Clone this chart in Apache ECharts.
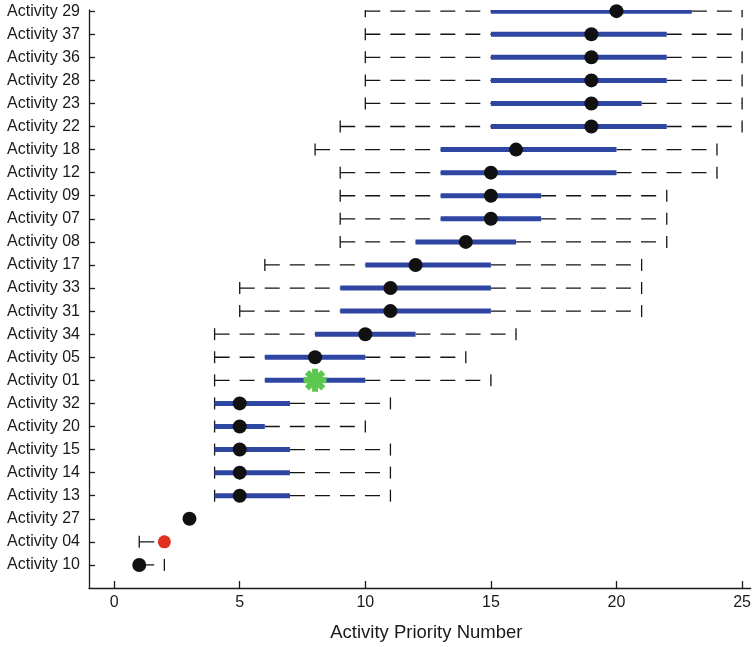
<!DOCTYPE html>
<html>
<head>
<meta charset="utf-8">
<script src="https://cdn.jsdelivr.net/npm/echarts@6/dist/echarts.min.js"></script>
<style>
html,body{margin:0;padding:0;background:#fff;}
#chart{width:754px;height:647px;}
</style>
</head>
<body>
<div id="chart"></div>
<script>
// Rows listed top to bottom
const categories = ['Activity 29','Activity 37','Activity 36','Activity 28','Activity 23','Activity 22','Activity 18','Activity 12','Activity 09','Activity 07','Activity 08','Activity 17','Activity 33','Activity 31','Activity 34','Activity 05','Activity 01','Activity 32','Activity 20','Activity 15','Activity 14','Activity 13','Activity 27','Activity 04','Activity 10'];
const mins    = [10,10,10,10,10, 9, 8, 9, 9, 9, 9, 6, 5, 5, 4, 4, 4, 4, 4, 4, 4, 4, 3, 1, 1];
const q1s     = [15,15,15,15,15,15,13,13,13,13,12,10, 9, 9, 8, 6, 6, 4, 4, 4, 4, 4, 3, 2, 1];
const medians = [20,19,19,19,19,19,16,15,15,15,14,12,11,11,10, 8, 8, 5, 5, 5, 5, 5, 3, 2, 1];
const q3s     = [23,22,22,22,21,22,20,20,17,17,16,15,15,15,12,10,10, 7, 6, 7, 7, 7, 3, 2, 1];
const maxs    = [25,25,25,25,25,25,24,24,22,22,22,21,21,21,16,14,15,11,10,11,11,11, 3, 2, 2];
const greenNames = ['Activity 01'];
const redNames = ['Activity 04'];
const xTicks = [0,5,10,15,20,25];

const n = categories.length;
const rowY = i => n - i;
const boxData = categories.map((c, i) => [rowY(i), mins[i], q1s[i], q3s[i], maxs[i]]);
const blackPts = [], greenPts = [], redPts = [];
categories.forEach((c, i) => {
  const p = [medians[i], rowY(i)];
  if (greenNames.includes(c)) greenPts.push(p);
  else if (redNames.includes(c)) redPts.push(p);
  else blackPts.push(p);
});
const yTickVals = categories.map((c, i) => rowY(i));

const FONT = '"Liberation Sans", Arial, Helvetica, sans-serif';
const BLUE = '#2e45a2';
const DASH = '#151515';

const asterisk = 'path://M-10,-2.6 L10,-2.6 L10,2.6 L-10,2.6 Z M-2.6,-10 L2.6,-10 L2.6,10 L-2.6,10 Z ' +
  'M-5.23,-8.91 L8.91,5.23 L5.23,8.91 L-8.91,-5.23 Z ' +
  'M-8.91,5.23 L5.23,-8.91 L8.91,-5.23 L-5.23,8.91 Z ' +
  'M-5,-5 L5,-5 L5,5 L-5,5 Z';

const chart = echarts.init(document.getElementById('chart'), null, {renderer: 'canvas'});
chart.setOption({
  animation: false,
  backgroundColor: '#fff',
  grid: {left: 89, right: 0, top: 10, bottom: 58, containLabel: false},
  xAxis: {
    type: 'value', min: -1, max: 25.34,
    splitLine: {show: false},
    axisLine: {show: true, onZero: false, lineStyle: {color: '#1a1a1a', width: 1.3}},
    axisTick: {show: true, inside: true, length: 7, customValues: xTicks, lineStyle: {color: '#1a1a1a', width: 1.3}},
    axisLabel: {customValues: xTicks, margin: 7, fontSize: 16, color: '#1a1a1a', fontFamily: FONT},
    name: 'Activity Priority Number', nameLocation: 'middle', nameGap: 35,
    nameTextStyle: {fontSize: 18.5, color: '#1a1a1a', fontFamily: FONT, padding: [0, 0, 0, 13]}
  },
  yAxis: {
    type: 'value', min: 0, max: 25.05,
    splitLine: {show: false},
    axisLine: {show: true, onZero: false, lineStyle: {color: '#1a1a1a', width: 1.3}},
    axisTick: {show: true, inside: true, length: 6, customValues: yTickVals, lineStyle: {color: '#1a1a1a', width: 1.3}},
    axisLabel: {
      customValues: yTickVals, margin: 9, fontSize: 16, color: '#1a1a1a', fontFamily: FONT,
      formatter: v => categories[n - Math.round(v)]
    }
  },
  series: [
    {
      type: 'custom',
      clip: true,
      data: boxData,
      encode: {x: [1, 2, 3, 4], y: 0},
      renderItem: function (params, api) {
        const y = api.value(0), mn = api.value(1), q1 = api.value(2), q3 = api.value(3), mx = api.value(4);
        const pMin = api.coord([mn, y]), pQ1 = api.coord([q1, y]), pQ3 = api.coord([q3, y]), pMax = api.coord([mx, y]);
        const cy = pMin[1];
        const children = [];
        const dashStyle = {stroke: DASH, lineWidth: 1.3, lineDash: [15, 10], fill: null};
        if (q1 > mn) children.push({type: 'line', shape: {x1: pMin[0], y1: cy, x2: pQ1[0], y2: cy}, style: dashStyle});
        if (mx > q3) children.push({type: 'line', shape: {x1: pQ3[0], y1: cy, x2: pMax[0], y2: cy}, style: dashStyle});
        const capStyle = {stroke: DASH, lineWidth: 1.3, fill: null};
        children.push({type: 'line', shape: {x1: pMin[0], y1: cy - 6, x2: pMin[0], y2: cy + 6}, style: capStyle});
        children.push({type: 'line', shape: {x1: pMax[0], y1: cy - 6, x2: pMax[0], y2: cy + 6}, style: capStyle});
        if (q3 > q1) children.push({type: 'line', shape: {x1: pQ1[0], y1: cy, x2: pQ3[0], y2: cy}, style: {stroke: BLUE, lineWidth: 5, fill: null}});
        return {type: 'group', children: children};
      },
      z: 2
    },
    {type: 'scatter', data: blackPts, symbol: 'circle', symbolSize: 14, itemStyle: {color: '#111', opacity: 1}, z: 5, clip: false},
    {type: 'scatter', data: redPts, symbol: 'circle', symbolSize: 13, itemStyle: {color: '#e2301f', opacity: 1}, z: 5, clip: false},
    {type: 'scatter', data: greenPts, symbol: asterisk, symbolSize: 23, itemStyle: {color: '#5cc84f', opacity: 1}, z: 5, clip: false}
  ]
});
</script>
</body>
</html>
